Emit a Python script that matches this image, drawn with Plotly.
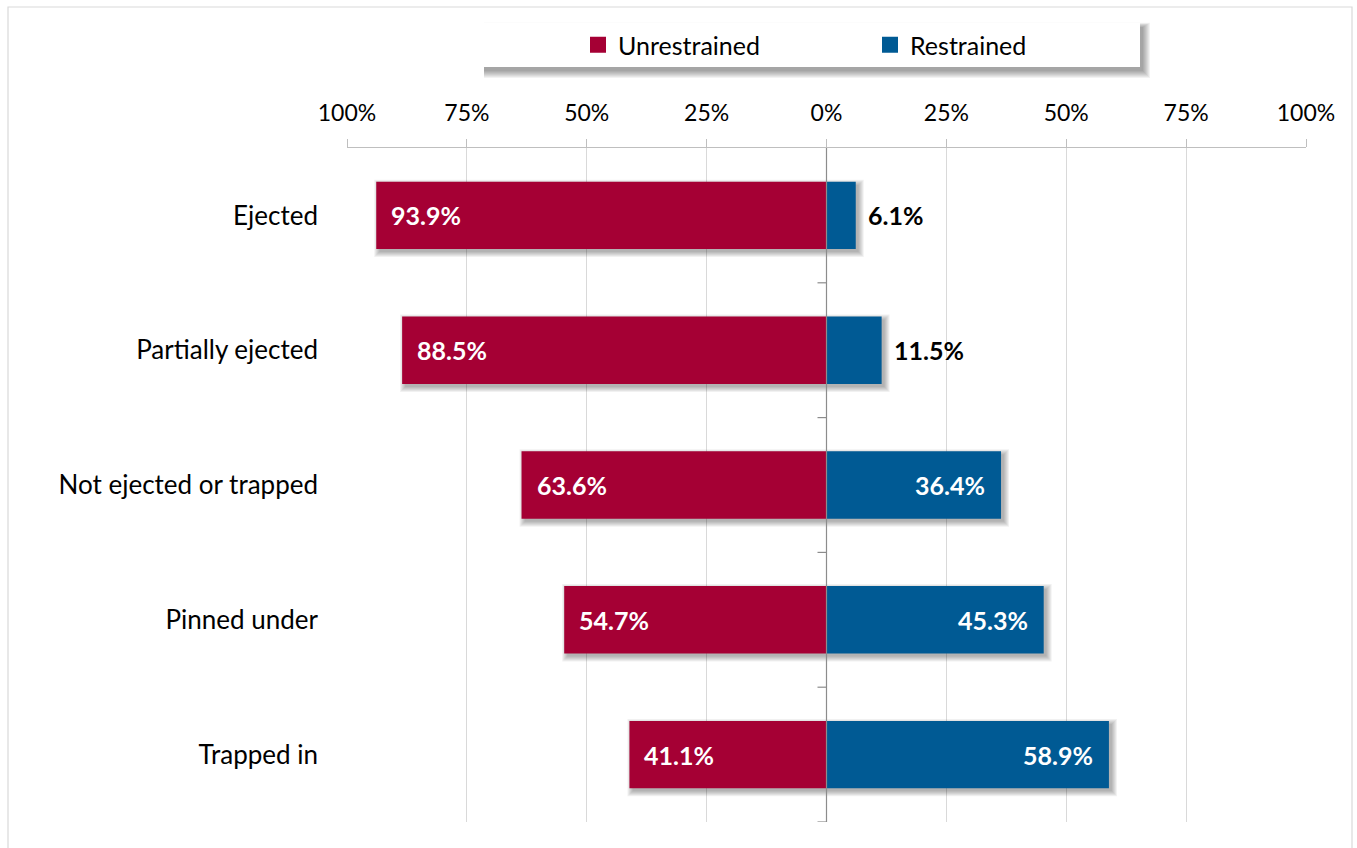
import plotly.graph_objects as go

# Occupant restraint use by ejection / entrapment status
categories = ["Ejected", "Partially ejected", "Not ejected or trapped", "Pinned under", "Trapped in"]
unrestrained = [93.9, 88.5, 63.6, 54.7, 41.1]
restrained = [6.1, 11.5, 36.4, 45.3, 58.9]
tick_vals = [-100, -75, -50, -25, 0, 25, 50, 75, 100]
tick_text = ["100%", "75%", "50%", "25%", "0%", "25%", "50%", "75%", "100%"]

RED = "#A50034"
BLUE = "#005A94"
FONT = "Lato"

W, H = 1357, 848
ML, MR, MT, MB = 347, 51, 148, 26
PW, PH = W - ML - MR, H - MT - MB
BAR_W = 0.5


def dx(px):
    # pixel distance -> x data units
    return px * 200.0 / PW


def dy(px):
    # pixel distance -> category units
    return px * len(categories) / PH


def px_paper_x(px):
    return (px - ML) / PW


def px_paper_y(py):
    return (H - MB - py) / PH


fig = go.Figure()
fig.add_trace(go.Bar(
    y=categories, x=[-v for v in unrestrained], orientation="h",
    name="Unrestrained", marker=dict(color=RED, line=dict(width=0)),
    width=BAR_W, customdata=unrestrained, showlegend=False,
    hovertemplate="%{y}: %{customdata:.1f}%<extra>Unrestrained</extra>",
))
fig.add_trace(go.Bar(
    y=categories, x=restrained, orientation="h",
    name="Restrained", marker=dict(color=BLUE, line=dict(width=0)),
    width=BAR_W, showlegend=False,
    hovertemplate="%{y}: %{x:.1f}%<extra>Restrained</extra>",
))
# legend keys drawn as larger square swatches
for name, color in [("Unrestrained", RED), ("Restrained", BLUE)]:
    fig.add_trace(go.Scatter(
        x=[None], y=[None], mode="markers", name=name,
        marker=dict(symbol="square", size=16, color=color),
        hoverinfo="skip",
    ))

shapes = []
annotations = []

# soft drop shadows behind the bars (stacked translucent rects fake a blur)
SH_X, SH_Y = 3, 3
for i, (u, r) in enumerate(zip(unrestrained, restrained)):
    for e in range(0, 6):
        shapes.append(dict(
            type="rect", xref="x", yref="y", layer="between",
            x0=-u + dx(SH_X - e), x1=r + dx(SH_X + e),
            y0=i - BAR_W / 2 + dy(SH_Y - e), y1=i + BAR_W / 2 + dy(SH_Y + e),
            fillcolor="#000000", opacity=0.055, line=dict(width=0),
        ))

# centre axis line with boundary ticks
shapes.append(dict(type="line", xref="x", yref="y", x0=0, x1=0, y0=-0.5, y1=len(categories) - 0.5,
                   line=dict(color="#8C8C8C", width=1.2), layer="above"))
for b in range(1, len(categories) + 1):
    yb = b - 0.5
    shapes.append(dict(type="line", xref="x", yref="y", x0=-dx(9), x1=0, y0=yb, y1=yb,
                       line=dict(color="#8C8C8C", width=1.2), layer="above"))

# data labels
LABEL_SIZE = 25
for i, (u, r) in enumerate(zip(unrestrained, restrained)):
    annotations.append(dict(
        x=-u, y=categories[i], xref="x", yref="y", text=f"{u:.1f}%",
        xanchor="left", xshift=13, showarrow=False,
        font=dict(family=FONT, size=LABEL_SIZE, color="white", weight="bold"),
    ))
    if r < 20:
        annotations.append(dict(
            x=r, y=categories[i], xref="x", yref="y", text=f"{r:.1f}%",
            xanchor="left", xshift=10, showarrow=False,
            font=dict(family=FONT, size=LABEL_SIZE, color="black", weight="bold"),
        ))
    else:
        annotations.append(dict(
            x=r, y=categories[i], xref="x", yref="y", text=f"{r:.1f}%",
            xanchor="right", xshift=-14, showarrow=False,
            font=dict(family=FONT, size=LABEL_SIZE, color="white", weight="bold"),
        ))

# outer chart frame
shapes.append(dict(type="rect", xref="paper", yref="paper",
                   x0=px_paper_x(8), x1=px_paper_x(1352), y0=px_paper_y(870), y1=px_paper_y(7),
                   line=dict(color="#D9D9D9", width=1.2), fillcolor="rgba(0,0,0,0)", layer="below"))

# legend box with soft shadow falling down and to the right
lx0, lx1, ly0, ly1 = 482, 1140, 23, 67
for e in range(0, 8):
    shapes.append(dict(type="rect", xref="paper", yref="paper",
                       x0=px_paper_x(lx0 + 2), x1=px_paper_x(lx1 + 3 + e),
                       y0=px_paper_y(ly1 + 4 + e), y1=px_paper_y(ly0 + 4 - 0.6 * e),
                       fillcolor="#000000", opacity=0.05, line=dict(width=0), layer="below"))
shapes.append(dict(type="rect", xref="paper", yref="paper",
                   x0=px_paper_x(lx0), x1=px_paper_x(lx1), y0=px_paper_y(ly1), y1=px_paper_y(ly0),
                   fillcolor="white", line=dict(width=0), layer="below"))

fig.update_layout(
    width=W, height=H,
    margin=dict(l=ML, r=MR, t=MT, b=MB, autoexpand=False),
    paper_bgcolor="white", plot_bgcolor="rgba(0,0,0,0)",
    barmode="relative", bargap=0.5,
    font=dict(family=FONT, color="black"),
    showlegend=True,
    legend=dict(
        orientation="h", x=px_paper_x(578), xanchor="left",
        y=px_paper_y(45), yanchor="middle",
        bgcolor="rgba(0,0,0,0)", borderwidth=0,
        font=dict(family=FONT, size=25, color="black"),
        entrywidth=247, entrywidthmode="pixels", itemwidth=30,
        traceorder="normal",
    ),
    xaxis=dict(
        side="top", range=[-100, 100], tickvals=tick_vals, ticktext=tick_text,
        ticks="outside", ticklen=8, tickcolor="#BFBFBF", tickwidth=1.2,
        showline=True, linecolor="#BFBFBF", linewidth=1.2,
        showgrid=True, gridcolor="#D9D9D9", gridwidth=1.2, zeroline=False,
        tickfont=dict(family=FONT, size=23, color="black"),
        ticklabelstandoff=9,
        fixedrange=True,
    ),
    yaxis=dict(
        type="category", range=[len(categories) - 0.5, -0.5],
        showgrid=False, zeroline=False, showline=False, ticks="",
        ticklabelstandoff=28,
        tickfont=dict(family=FONT, size=26, color="black"),
        fixedrange=True,
    ),
    shapes=shapes,
    annotations=annotations,
)

fig.write_html("out.html")
